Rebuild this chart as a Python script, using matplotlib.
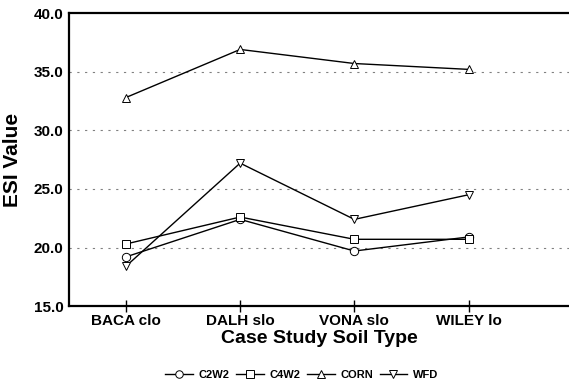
import matplotlib
matplotlib.use("Agg")
import matplotlib.pyplot as plt

plt.rcParams['font.family'] = ['Liberation Sans', 'DejaVu Sans']

soils = ['BACA clo', 'DALH slo', 'VONA slo', 'WILEY lo']
c2w2 = [19.2, 22.4, 19.7, 20.9]
c4w2 = [20.3, 22.6, 20.7, 20.7]
corn = [32.8, 36.9, 35.7, 35.2]
wfd = [18.4, 27.2, 22.4, 24.5]

series = [('C2W2', c2w2, 'o'), ('C4W2', c4w2, 's'),
          ('CORN', corn, '^'), ('WFD', wfd, 'v')]

fig = plt.figure(figsize=(5.69, 3.86), dpi=100)
ax = fig.add_axes([0.121, 0.207, 0.879, 0.759])

x = range(len(soils))
for name, vals, m in series:
    ax.plot(x, vals, color='black', lw=1.0, marker=m, markersize=6,
            markerfacecolor='white', markeredgecolor='black',
            markeredgewidth=0.7, label=name)

ax.set_xlim(-0.5, 3.88)
ax.set_ylim(15, 40)
ax.set_yticks([15, 20, 25, 30, 35, 40])
ax.set_yticklabels(['%.1f' % v for v in [15, 20, 25, 30, 35, 40]],
                   fontsize=11, fontweight='bold')
ax.set_xticks(list(x))
ax.set_xticklabels(soils, fontsize=11, fontweight='bold')
ax.tick_params(axis='y', length=0, pad=4)
ax.tick_params(axis='x', direction='inout', length=8, width=1, pad=2)

for v in [20, 25, 30, 35]:
    ax.axhline(v, color='gray', lw=0.8, ls=(0, (2, 5)), zorder=0)

ax.spines['right'].set_visible(False)
for s in ['left', 'top', 'bottom']:
    ax.spines[s].set_linewidth(1.6)

ax.set_xlabel('Case Study Soil Type', fontsize=14, fontweight='bold', labelpad=1)
ax.set_ylabel('ESI Value', fontsize=15, fontweight='bold', labelpad=8)

fig.legend(loc='lower center', bbox_to_anchor=(0.53, -0.01), ncol=4,
           frameon=False, prop={'size': 8, 'weight': 'bold'},
           handlelength=2.5, columnspacing=0.6, handletextpad=0.5,
           markerscale=0.9)

fig.savefig('out.png', dpi=100)
